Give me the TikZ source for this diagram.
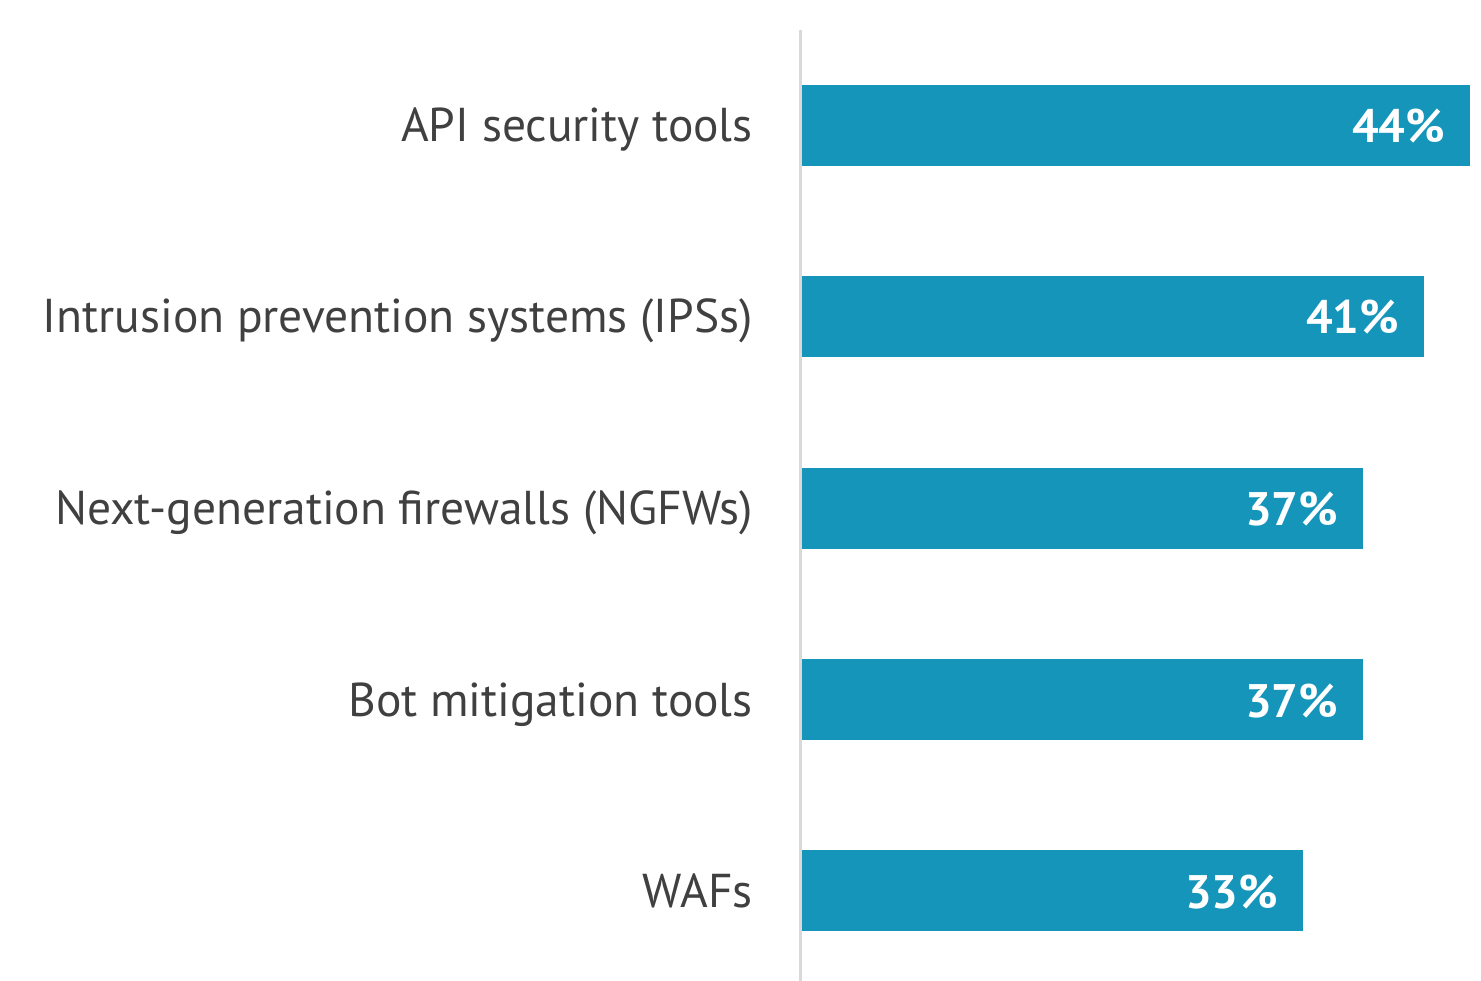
\documentclass[tikz,border=0pt]{standalone}
\usepackage{fontspec}
\setmainfont{PT Sans}
\definecolor{barblue}{HTML}{1695BB}
\definecolor{axisgray}{HTML}{D9D9D9}
\definecolor{labelgray}{HTML}{404040}
\begin{document}
\begin{tikzpicture}[x=1pt,y=-1pt,
  bar/.style={fill=barblue,draw=none},
  cat/.style={anchor=base east,text=labelgray,inner sep=0pt,font=\fontsize{47.5}{56}\selectfont},
  pct/.style={anchor=base east,text=white,inner sep=0pt,font=\fontsize{47}{54}\selectfont\bfseries}]
\useasboundingbox (0,0) rectangle (1481,981);
\fill[bar] (802,85) rectangle (1470,166);
\fill[bar] (802,276) rectangle (1424,357);
\fill[bar] (802,468) rectangle (1363,549);
\fill[bar] (802,659) rectangle (1363,740);
\fill[bar] (802,850) rectangle (1303,931);
\coordinate (axtop) at (800,30);
\coordinate (axbot) at (800,981);
\draw[axisgray,line width=3pt] (axtop) -- (axbot);
\node[cat] (c1) at (753,142) {API security tools};
\node[cat] (c2) at (753,333) {Intrusion prevention systems (IPSs)};
\node[cat] (c3) at (753,524) {Next-generation firewalls (NGFWs)};
\node[cat] (c4) at (753,716) {Bot mitigation tools};
\node[cat] (c5) at (753,907) {WAFs};
\node[pct] (p1) at (1445,143) {44\%};
\node[pct] (p2) at (1399,334) {41\%};
\node[pct] (p3) at (1338,525) {37\%};
\node[pct] (p4) at (1338,717) {37\%};
\node[pct] (p5) at (1278,908) {33\%};
\end{tikzpicture}
\end{document}
